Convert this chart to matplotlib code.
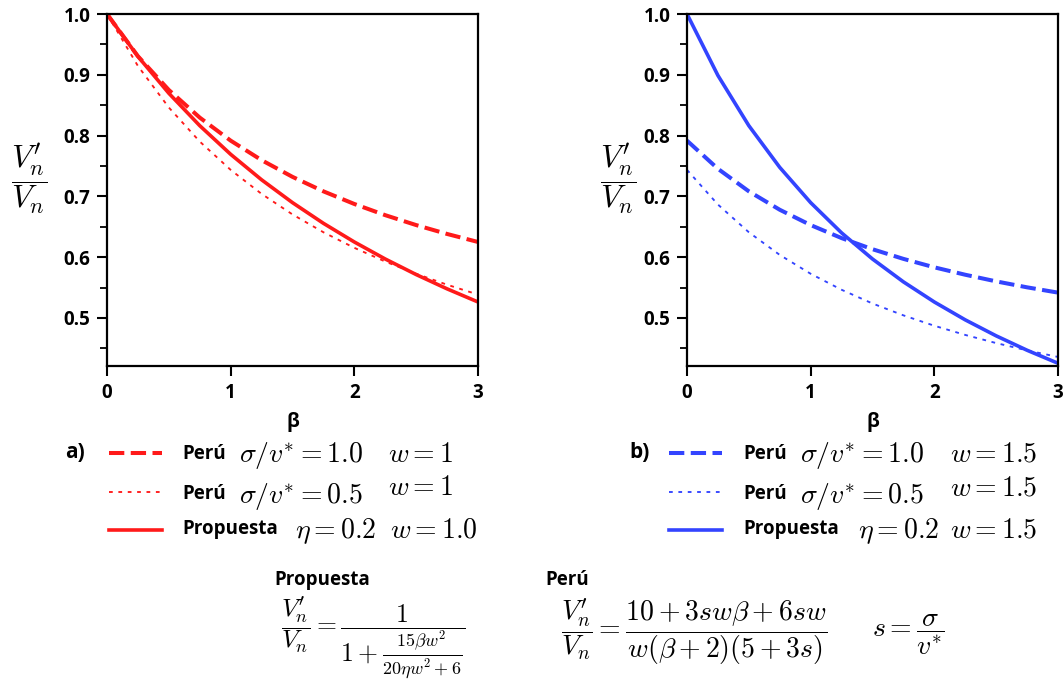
import matplotlib
matplotlib.use("Agg")
import matplotlib.pyplot as plt
from matplotlib.lines import Line2D
from matplotlib.ticker import MultipleLocator

plt.rcParams['font.family'] = ['Open Sans', 'DejaVu Sans']
plt.rcParams['mathtext.fontset'] = 'cm'

# ---- data ----
beta = [0, 0.25, 0.5, 0.75, 1, 1.25, 1.5, 1.75, 2, 2.25, 2.5, 2.75, 3]

# panel a) w = 1
peru_a_s10 = [1.0, 0.9306, 0.875, 0.8296, 0.7917, 0.7596, 0.7321, 0.7083, 0.6875, 0.6691, 0.6528, 0.6382, 0.625]
peru_a_s05 = [1.0, 0.9145, 0.8462, 0.7902, 0.7436, 0.7041, 0.6703, 0.6410, 0.6154, 0.5928, 0.5727, 0.5547, 0.5385]
prop_a     = [1.0, 0.9302, 0.8696, 0.8163, 0.7692, 0.7273, 0.6897, 0.6557, 0.625, 0.5970, 0.5714, 0.5479, 0.5263]

# panel b) w = 1.5
peru_b_s10 = [0.7917, 0.7454, 0.7083, 0.6780, 0.6528, 0.6314, 0.6131, 0.5972, 0.5833, 0.5711, 0.5602, 0.5504, 0.5417]
peru_b_s05 = [0.7436, 0.6866, 0.6410, 0.6037, 0.5727, 0.5464, 0.5238, 0.5043, 0.4872, 0.4721, 0.4587, 0.4467, 0.4359]
prop_b     = [1.0, 0.8989, 0.8163, 0.7477, 0.6897, 0.64, 0.5970, 0.5594, 0.5263, 0.4969, 0.4706, 0.4469, 0.4255]

xticks = [0, 1, 2, 3]
yticks = [0.5, 0.6, 0.7, 0.8, 0.9, 1.0]
ytick_labels = ['0.5', '0.6', '0.7', '0.8', '0.9', '1.0']

RED = '#ff1a1a'
BLUE = '#3344ff'
DASH = (0, (3.8, 1.6))
DOT = (0, (2.0, 3.0))
LW_DASH, LW_DOT, LW_SOLID = 2.9, 1.35, 2.6

fig = plt.figure(figsize=(10.63, 6.81), dpi=100)
W, H = 1063, 681

def fx(px):
    return px / W

def fy(py):
    return 1 - py / H

axa = fig.add_axes([fx(107), fy(366), fx(371), 352 / H])
axb = fig.add_axes([fx(687), fy(366), fx(371), 352 / H])

tickfont = dict(family='Open Sans', weight='bold', size=13.5)

for ax, col, s10, s05, pr in [(axa, RED, peru_a_s10, peru_a_s05, prop_a),
                               (axb, BLUE, peru_b_s10, peru_b_s05, prop_b)]:
    ax.plot(beta, s10, color=col, lw=LW_DASH, linestyle=DASH, dash_capstyle='butt')
    ax.plot(beta, s05, color=col, lw=LW_DOT, linestyle=DOT)
    ax.plot(beta, pr, color=col, lw=LW_SOLID)
    ax.set_xlim(0, 3)
    ax.set_ylim(0.421, 1.0)
    ax.set_xticks(xticks)
    ax.set_xticklabels([str(t) for t in xticks], fontdict=tickfont)
    ax.set_yticks(yticks)
    ax.set_yticklabels(ytick_labels, fontdict=tickfont)
    ax.yaxis.set_minor_locator(MultipleLocator(0.05))
    ax.tick_params(axis='both', which='major', direction='out', length=7, width=1.5,
                   top=False, right=False, pad=5, colors='black')
    ax.tick_params(axis='y', which='minor', direction='out', length=5, width=1.3, right=False)
    for sp in ax.spines.values():
        sp.set_linewidth(1.6)
    ax.set_xlabel('β', fontdict=dict(family='Open Sans', weight='bold', size=14), labelpad=7)

# y labels (fraction)
fig.text(fx(29), fy(188), r'$\dfrac{V_n^{\prime}}{V_n}$', fontsize=23, ha='center', va='baseline')
fig.text(fx(618), fy(188), r'$\dfrac{V_n^{\prime}}{V_n}$', fontsize=23, ha='center', va='baseline')

# ---- legends ----
bold = dict(family='Open Sans', weight='bold')
MS = 20  # math font size in legends

def legend_block(x_lab, lab, x_l0, x_l1, x_txt, x_math, x_w, x_eta, x_w3, col, wvals, wprop):
    line_rows = [453, 492, 530]
    base = [462, 503, 538]
    wbase = [462, 495, 538]
    tbase = [459, 499, 534]
    fig.text(fx(x_lab), fy(line_rows[0]), lab, fontsize=15, ha='left', va='center', **bold)
    styles = [(DASH, LW_DASH), (DOT, LW_DOT), ('-', LW_SOLID)]
    for r, (ls, lw) in zip(line_rows, styles):
        fig.add_artist(Line2D([fx(x_l0), fx(x_l1)], [fy(r), fy(r)], color=col, lw=lw,
                              linestyle=ls, dash_capstyle='butt', transform=fig.transFigure))
    fig.text(fx(x_txt), fy(tbase[0]), 'Perú', fontsize=13.5, ha='left', va='baseline', **bold)
    fig.text(fx(x_math), fy(base[0]), r'$\sigma/v^{*} = 1.0$', fontsize=MS, ha='left', va='baseline')
    fig.text(fx(x_w), fy(wbase[0]), r'$w = %s$' % wvals, fontsize=MS, ha='left', va='baseline')
    fig.text(fx(x_txt), fy(tbase[1]), 'Perú', fontsize=13.5, ha='left', va='baseline', **bold)
    fig.text(fx(x_math), fy(base[1]), r'$\sigma/v^{*} = 0.5$', fontsize=MS, ha='left', va='baseline')
    fig.text(fx(x_w), fy(wbase[1]), r'$w = %s$' % wvals, fontsize=MS, ha='left', va='baseline')
    fig.text(fx(x_txt), fy(tbase[2]), 'Propuesta', fontsize=13.5, ha='left', va='baseline', **bold)
    fig.text(fx(x_eta), fy(base[2]), r'$\eta = 0.2$', fontsize=MS, ha='left', va='baseline')
    fig.text(fx(x_w3), fy(wbase[2]), r'$w = %s$' % wprop, fontsize=MS, ha='left', va='baseline')

legend_block(65, 'a)', 109, 162, 182, 239, 388, 295, 390, RED, '1', '1.0')
legend_block(629, 'b)', 669, 722, 743, 800, 950, 858, 950, BLUE, '1.5', '1.5')

# ---- formulas ----
fig.text(fx(274), fy(580), 'Propuesta', fontsize=13.5, ha='left', va='center', **bold)
fig.text(fx(545), fy(580), 'Perú', fontsize=13.5, ha='left', va='center', **bold)
fig.text(fx(281), fy(633),
         r'$\dfrac{V_n^{\prime}}{V_n} = \dfrac{1}{1+\frac{15\beta w^2}{20\eta w^2+6}}$',
         fontsize=18.5, ha='left', va='baseline')
fig.text(fx(561), fy(638),
         r'$\dfrac{V_n^{\prime}}{V_n} = \dfrac{10+3sw\beta+6sw}{w(\beta+2)(5+3s)}$',
         fontsize=20, ha='left', va='baseline')
fig.text(fx(872), fy(638), r'$s = \dfrac{\sigma}{v^{*}}$', fontsize=20, ha='left', va='baseline')

fig.savefig('out.png', dpi=100, facecolor='white')
